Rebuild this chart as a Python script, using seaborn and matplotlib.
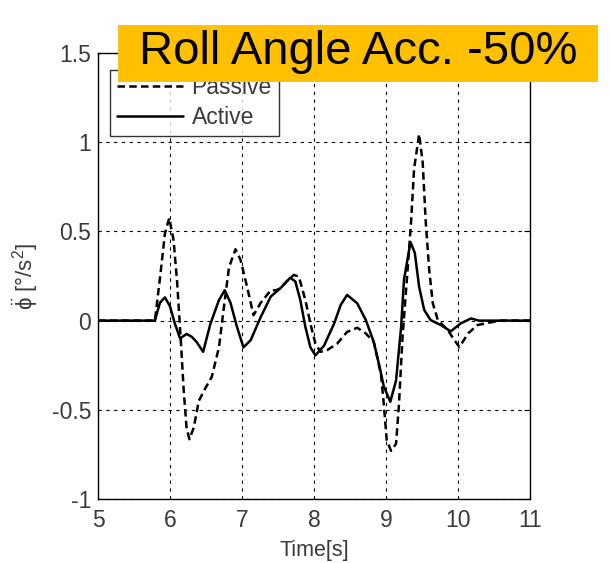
import numpy as np
import pandas as pd
import matplotlib
matplotlib.use("Agg")
import matplotlib.pyplot as plt
from matplotlib.patches import Rectangle
import seaborn as sns

# ---- data ----
t_passive = [5.0, 5.79, 5.87, 5.93, 5.99, 6.05, 6.10, 6.15, 6.19, 6.23, 6.27, 6.33, 6.40,
             6.49, 6.58, 6.68, 6.75, 6.82, 6.91, 6.98, 7.07, 7.16, 7.26, 7.40, 7.47, 7.53,
             7.62, 7.72, 7.79, 7.88, 7.95, 8.02, 8.09, 8.18, 8.32, 8.46, 8.60, 8.72, 8.83,
             8.93, 8.97, 9.01, 9.07, 9.14, 9.18, 9.23, 9.30, 9.35, 9.39, 9.46, 9.51, 9.55,
             9.60, 9.65, 9.72, 9.86, 9.95, 10.02, 10.14, 10.27, 10.45, 10.6, 11.0]
v_passive = [0.0, 0.0, 0.27, 0.49, 0.575, 0.45, 0.21, -0.11, -0.39, -0.60, -0.665, -0.60, -0.45,
             -0.38, -0.315, -0.15, 0.08, 0.30, 0.40, 0.34, 0.19, 0.03, 0.10, 0.17, 0.17, 0.18,
             0.22, 0.256, 0.247, 0.115, -0.016, -0.13, -0.175, -0.166, -0.13, -0.063, -0.04, -0.072, -0.12,
             -0.30, -0.47, -0.67, -0.73, -0.69, -0.47, -0.09, 0.285, 0.565, 0.85, 1.045, 0.885, 0.565,
             0.285, 0.097, 0.003, -0.054, -0.11, -0.148, -0.072, -0.025, -0.01, 0.0, 0.0]

t_active = [5.0, 5.79, 5.86, 5.93, 6.0, 6.07, 6.14, 6.23, 6.30, 6.37, 6.46, 6.56, 6.68, 6.76,
            6.84, 6.93, 7.02, 7.12, 7.26, 7.40, 7.53, 7.67, 7.74, 7.81, 7.88, 7.95, 8.02, 8.14,
            8.28, 8.37, 8.46, 8.60, 8.72, 8.83, 8.90, 8.97, 9.06, 9.14, 9.21, 9.25, 9.34, 9.40,
            9.46, 9.53, 9.62, 9.76, 9.90, 10.04, 10.18, 10.29, 11.0]
v_active = [0.0, 0.0, 0.10, 0.13, 0.08, -0.02, -0.10, -0.075, -0.09, -0.12, -0.175, -0.02, 0.115, 0.17,
            0.10, -0.035, -0.15, -0.11, 0.02, 0.135, 0.18, 0.24, 0.22, 0.115, -0.035, -0.15, -0.195, -0.14,
            -0.016, 0.087, 0.144, 0.097, 0.003, -0.12, -0.24, -0.37, -0.455, -0.335, -0.035, 0.23, 0.44, 0.38,
            0.19, 0.06, 0.003, -0.025, -0.06, -0.015, 0.012, 0.0, 0.0]

x_ticks = [5, 6, 7, 8, 9, 10, 11]
y_ticks = [-1, -0.5, 0, 0.5, 1, 1.5]
y_ticklabels = ["-1", "-0.5", "0", "0.5", "1", "1.5"]
title_text = "Roll Angle Acc. -50%"
series_names = ["Passive", "Active"]

sns.set_theme(style="white")
plt.rcParams["font.family"] = ["Liberation Sans", "DejaVu Sans"]
plt.rcParams["mathtext.fontset"] = "custom"
plt.rcParams["mathtext.rm"] = "Liberation Sans"
plt.rcParams["mathtext.it"] = "Liberation Sans:italic"

fig = plt.figure(figsize=(6.11, 5.63), dpi=100)
fig.patch.set_facecolor("white")
ax = fig.add_axes([98 / 611, 1 - 499 / 563, 432 / 611, 446 / 563])

df_p = pd.DataFrame({"t": t_passive, "v": v_passive})
df_a = pd.DataFrame({"t": t_active, "v": v_active})
sns.lineplot(data=df_p, x="t", y="v", ax=ax, color="black", lw=1.8,
             linestyle=(0, (3.0, 1.7)), label=series_names[0])
sns.lineplot(data=df_a, x="t", y="v", ax=ax, color="black", lw=1.8,
             linestyle="-", label=series_names[1])

ax.set_xlim(5, 11)
ax.set_ylim(-1, 1.5)
ax.set_xticks(x_ticks)
ax.set_xticklabels([str(v) for v in x_ticks])
ax.set_yticks(y_ticks)
ax.set_yticklabels(y_ticklabels)
ax.grid(True, color="black", linestyle=(0, (3, 4)), linewidth=0.8)
for s in ax.spines.values():
    s.set_visible(True)
    s.set_color("black")
    s.set_linewidth(1.0)
ax.tick_params(direction="in", length=4, width=0.8, top=True, right=True,
               labelsize=16.5, labelcolor="#3a3a3a", pad=5, color="black")
ax.tick_params(axis="x", pad=7)
ax.set_xlabel("Time[s]", fontsize=15.5, color="#3a3a3a", labelpad=6)
ax.set_ylabel(r"$\ddot{\mathrm{\phi}}$ [°/s$^2$]", fontsize=16, color="#3a3a3a", labelpad=8)

leg = ax.legend(loc="upper left", bbox_to_anchor=((110 - 98) / 432, (499 - 69.5) / 446),
                borderaxespad=0, fontsize=16.5, frameon=True, fancybox=False, shadow=False,
                handlelength=2.9, handletextpad=0.36, labelspacing=0.3, borderpad=0.3)
leg.get_frame().set_edgecolor("black")
leg.get_frame().set_linewidth(1.0)
for txt in leg.get_texts():
    txt.set_color("#3a3a3a")

fig.patches.append(Rectangle((118 / 611, 1 - 82 / 563), 480 / 611, 57 / 563,
                             transform=fig.transFigure, facecolor="#FFC000",
                             edgecolor="none", zorder=10))
fig.text(358 / 611, 1 - 52 / 563, title_text, fontsize=34, color="black",
         ha="center", va="center", zorder=11)

fig.savefig("out.png", dpi=100, facecolor="white")
